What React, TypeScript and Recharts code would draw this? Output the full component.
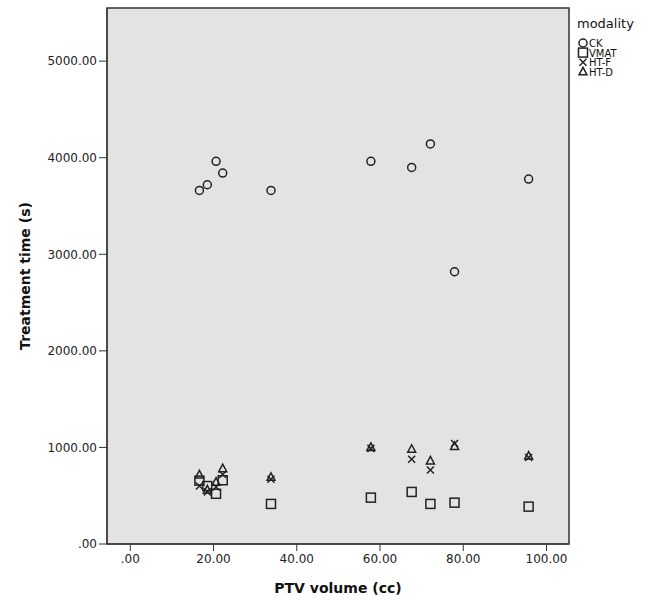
import {
  Legend,
  ReferenceArea,
  Scatter,
  ScatterChart,
  XAxis,
  YAxis,
} from "recharts";

// PTV volume (cc) per patient, shared by all four modalities
const volumes = [16.6, 18.5, 20.6, 22.2, 33.8, 57.8, 67.6, 72.1, 77.9, 95.7];

// treatment time (s) per modality, same order as volumes
const ckTimes = [3661, 3720, 3962, 3841, 3661, 3962, 3899, 4142, 2819, 3779];
const vmatTimes = [656, 600, 520, 660, 415, 480, 539, 415, 428, 387];
const htfTimes = [600, 540, 590, 720, 670, 990, 878, 767, 1040, 895];
const htdTimes = [715, 560, 640, 780, 690, 1000, 981, 860, 1010, 910];

const xTicks = [0, 20, 40, 60, 80, 100];
const yTicks = [0, 1000, 2000, 3000, 4000, 5000];

const X_DOMAIN: [number, number] = [-5.6, 105.4];
const Y_DOMAIN: [number, number] = [0, 5550];

const INK = "#222";
const FONT = "'DejaVu Sans', sans-serif";

const toPoints = (times: number[]) => volumes.map((v, i) => ({ x: v, y: times[i] }));

const fmt = (v: number) => (v === 0 ? ".00" : v.toFixed(2));

type ShapeProps = { cx?: number; cy?: number };

const CircleMark = ({ cx = 0, cy = 0 }: ShapeProps) => (
  <circle cx={cx} cy={cy} r={4} fill="none" stroke={INK} strokeWidth={1.5} />
);
const SquareMark = ({ cx = 0, cy = 0 }: ShapeProps) => (
  <rect x={cx - 4.5} y={cy - 4.5} width={9} height={9} fill="none" stroke={INK} strokeWidth={1.5} />
);
const CrossMark = ({ cx = 0, cy = 0 }: ShapeProps) => (
  <path
    d={`M${cx - 3.5},${cy - 3.5}L${cx + 3.5},${cy + 3.5}M${cx - 3.5},${cy + 3.5}L${cx + 3.5},${cy - 3.5}`}
    stroke={INK}
    strokeWidth={1.5}
    fill="none"
  />
);
const TriangleMark = ({ cx = 0, cy = 0 }: ShapeProps) => (
  <path
    d={`M${cx},${cy - 4.5}L${cx + 4},${cy + 3}L${cx - 4},${cy + 3}Z`}
    stroke={INK}
    strokeWidth={1.5}
    fill="none"
  />
);

const legendItems = [
  { name: "CK", Mark: CircleMark },
  { name: "VMAT", Mark: SquareMark },
  { name: "HT-F", Mark: CrossMark },
  { name: "HT-D", Mark: TriangleMark },
];

function ModalityLegend() {
  return (
    <svg width={84} height={80} style={{ display: "block" }}>
      <text x={8} y={28} fontFamily={FONT} fontSize={13} fill="#111">
        modality
      </text>
      {legendItems.map(({ name, Mark }, i) => (
        <g key={name}>
          <Mark cx={14} cy={43 + i * 9.6} />
          <text x={20} y={47 + i * 9.6} fontFamily={FONT} fontSize={10} fill="#111">
            {name}
          </text>
        </g>
      ))}
    </svg>
  );
}

export default function App() {
  const tick = { fontFamily: FONT, fontSize: 12, fill: "#222" };
  return (
    <div style={{ position: "absolute", left: 0, top: 0, background: "#fff" }}>
      <ScatterChart width={657} height={600} margin={{ top: 8, right: 4, bottom: 0, left: 0 }}>
        <ReferenceArea
          x1={X_DOMAIN[0]}
          x2={X_DOMAIN[1]}
          y1={Y_DOMAIN[0]}
          y2={Y_DOMAIN[1]}
          fill="#e3e3e3"
          fillOpacity={1}
          stroke="#333"
          strokeWidth={1.5}
        />
        <XAxis
          type="number"
          dataKey="x"
          domain={X_DOMAIN}
          ticks={xTicks}
          tickFormatter={fmt}
          allowDataOverflow
          height={56}
          tickSize={7}
          tickMargin={3}
          tick={tick}
          stroke="#333"
          label={{
            value: "PTV volume (cc)",
            position: "center",
            dy: 16,
            style: { fontFamily: FONT, fontSize: 14, fontWeight: "bold", fill: "#111" },
          }}
        />
        <YAxis
          type="number"
          dataKey="y"
          domain={Y_DOMAIN}
          ticks={yTicks}
          tickFormatter={fmt}
          allowDataOverflow
          width={107}
          tickSize={8}
          tickMargin={2}
          tick={tick}
          stroke="#333"
          label={{
            value: "Treatment time (s)",
            angle: -90,
            position: "center",
            dx: -28,
            style: { fontFamily: FONT, fontSize: 14, fontWeight: "bold", fill: "#111" },
          }}
        />
        <Legend
          layout="vertical"
          align="right"
          verticalAlign="top"
          wrapperStyle={{ width: 84, top: 0 }}
          content={() => <ModalityLegend />}
        />
        <Scatter name="VMAT" data={toPoints(vmatTimes)} shape={SquareMark} isAnimationActive={false} />
        <Scatter name="HT-D" data={toPoints(htdTimes)} shape={TriangleMark} isAnimationActive={false} />
        <Scatter name="HT-F" data={toPoints(htfTimes)} shape={CrossMark} isAnimationActive={false} />
        <Scatter name="CK" data={toPoints(ckTimes)} shape={CircleMark} isAnimationActive={false} />
      </ScatterChart>
    </div>
  );
}
